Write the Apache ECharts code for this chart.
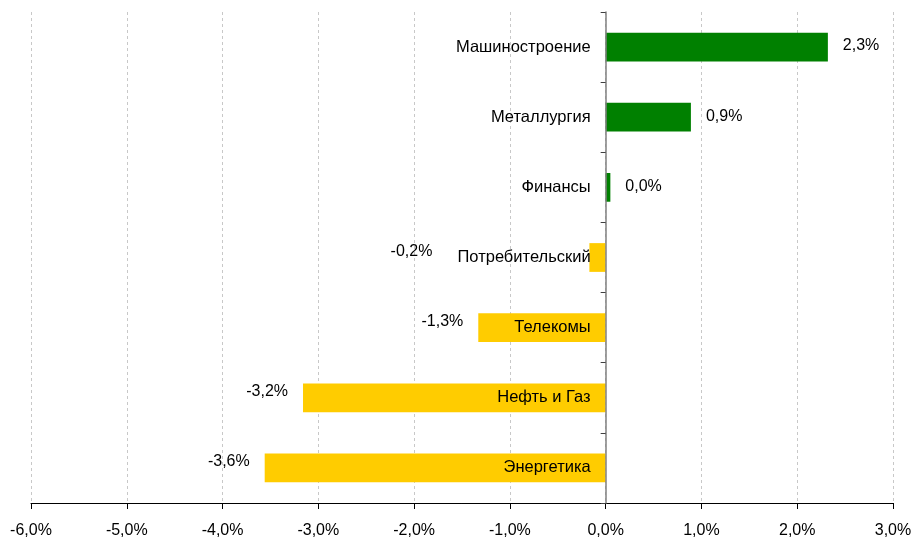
<!DOCTYPE html>
<html>
<head>
<meta charset="utf-8">
<script src="https://cdn.jsdelivr.net/npm/echarts@6/dist/echarts.min.js"></script>
<style>
  html, body { margin: 0; padding: 0; background: #fff; }
  #chart { width: 917px; height: 544px; }
</style>
</head>
<body>
<div id="chart"></div>
<script>
// отрасли сверху вниз
var categories = ['Машиностроение', 'Металлургия', 'Финансы', 'Потребительский', 'Телекомы', 'Нефть и Газ', 'Энергетика']
// изменение, %
var values = [2.32, 0.89, 0.049, -0.17, -1.33, -3.16, -3.56]
var ticks = [-6, -5, -4, -3, -2, -1, 0, 1, 2, 3]

var FONT = '"Liberation Sans Narrow", "Liberation Sans", Arial, sans-serif'
var GREEN = '#008000'
var YELLOW = '#FFCC00'

var W = 917
var GRID_LEFT = 31
var GRID_RIGHT = 24

function pct(v) {
  return v.toFixed(1).replace('.', ',') + '%'
}

var chart = echarts.init(document.getElementById('chart'))

var xMin = ticks[0]
var xMax = ticks[ticks.length - 1]
// ось категорий стоит на нуле, сдвигаем её от левого края сетки
var zeroShift = (W - GRID_LEFT - GRID_RIGHT) * (0 - xMin) / (xMax - xMin)

var seriesData = values.map(function (v) {
  var neg = v < 0
  var label = {
    show: true,
    position: neg ? 'left' : 'right',
    distance: 15,
    offset: neg ? [0, -6] : [0, -1]
  }
  // короткий отрицательный столбец: подпись уходит за название категории
  if (neg && v > -0.5) label.distance = 157
  return {
    value: v,
    itemStyle: { color: neg ? YELLOW : GREEN },
    label: label
  }
})

chart.setOption({
  animation: false,
  textStyle: { fontFamily: FONT },
  grid: {
    left: GRID_LEFT,
    right: GRID_RIGHT,
    top: 12,
    bottom: 41,
    containLabel: false,
    outerBoundsMode: 'none'
  },
  xAxis: {
    type: 'value',
    min: xMin,
    max: xMax,
    interval: 1,
    axisLine: { show: true, lineStyle: { color: '#000', width: 1 } },
    axisTick: { show: true, length: 6, lineStyle: { color: '#000' } },
    axisLabel: {
      margin: 20,
      color: '#000',
      fontSize: 16,
      fontFamily: FONT,
      formatter: function (v) { return pct(v) }
    },
    splitLine: {
      show: true,
      lineStyle: { color: '#c8c8c8', type: [3, 3], width: 1 }
    }
  },
  yAxis: {
    type: 'category',
    data: categories,
    inverse: true,
    z: 10,
    offset: -zeroShift,
    axisLine: { show: true, onZero: false, lineStyle: { color: '#808080', width: 1.5 } },
    axisTick: { show: true, length: 5, lineStyle: { color: '#404040' } },
    axisLabel: {
      margin: 15,
      color: '#000',
      fontSize: 16.5,
      fontFamily: FONT
    },
    splitLine: { show: false }
  },
  series: [
    {
      type: 'bar',
      barWidth: '41%',
      data: seriesData,
      label: {
        color: '#000',
        fontSize: 16,
        fontFamily: FONT,
        formatter: function (p) { return pct(p.value) }
      }
    }
  ]
})
</script>
</body>
</html>
